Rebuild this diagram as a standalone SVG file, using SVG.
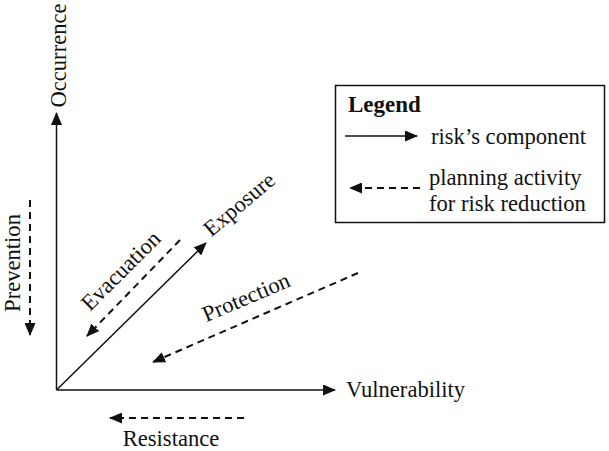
<svg xmlns="http://www.w3.org/2000/svg" width="609" height="451" viewBox="0 0 609 451">
<style>
  text { font-family: "Liberation Serif", "Times New Roman", serif; font-size: 22.6px; fill: #111; }
  .bold { font-weight: bold; font-size: 23px; }
  .solid { stroke: #111; stroke-width: 1.5; fill: none; marker-end: url(#arrow); }
  .dash { stroke: #111; stroke-width: 2; fill: none; stroke-dasharray: 7 5; marker-end: url(#arrow); }
</style>
<defs>
  <marker id="arrow" markerUnits="userSpaceOnUse" markerWidth="13" markerHeight="11" viewBox="0 0 13 11" refX="12" refY="5.5" orient="auto">
    <path d="M0,0 L13,5.5 L0,11 z" fill="#111"/>
  </marker>
</defs>
<rect width="609" height="451" fill="#fff"/>

<g id="connectors">
  <path id="axis-occurrence" class="solid" d="M56.5,390 L56.5,113"/>
  <path id="axis-vulnerability" class="solid" d="M56.5,390 L335,390"/>
  <path id="axis-exposure" class="solid" d="M56.5,390 L206,243"/>
  <path id="act-evacuation" class="dash" d="M180,240 L87,336"/>
  <path id="act-protection" class="dash" d="M358,273 L153,362"/>
  <path id="act-prevention" class="dash" d="M30,200 L30,335"/>
  <path id="act-resistance" class="dash" d="M244,418 L110,418"/>
</g>

<g id="occurrence"><text transform="translate(66,55.5) rotate(-90)" text-anchor="middle">Occurrence</text></g>
<g id="vulnerability"><text x="346" y="397">Vulnerability</text></g>
<g id="exposure"><text transform="translate(244,210) rotate(-40)" text-anchor="middle">Exposure</text></g>
<g id="prevention"><text transform="translate(20,263) rotate(-90)" text-anchor="middle">Prevention</text></g>
<g id="evacuation"><text transform="translate(126,276) rotate(-45)" text-anchor="middle">Evacuation</text></g>
<g id="protection"><text transform="translate(249,304) rotate(-23)" text-anchor="middle">Protection</text></g>
<g id="resistance"><text x="171" y="446" text-anchor="middle">Resistance</text></g>

<g id="legend">
  <rect x="335.5" y="85.5" width="269" height="137" fill="none" stroke="#111" stroke-width="1.5"/>
  <text class="bold" x="348" y="112">Legend</text>
  <path class="solid" d="M345,136 L417,136"/>
  <text x="431" y="144">risk’s component</text>
  <path class="dash" d="M420,188 L350,188"/>
  <text x="429" y="185">planning activity</text>
  <text x="429" y="211">for risk reduction</text>
</g>
</svg>
